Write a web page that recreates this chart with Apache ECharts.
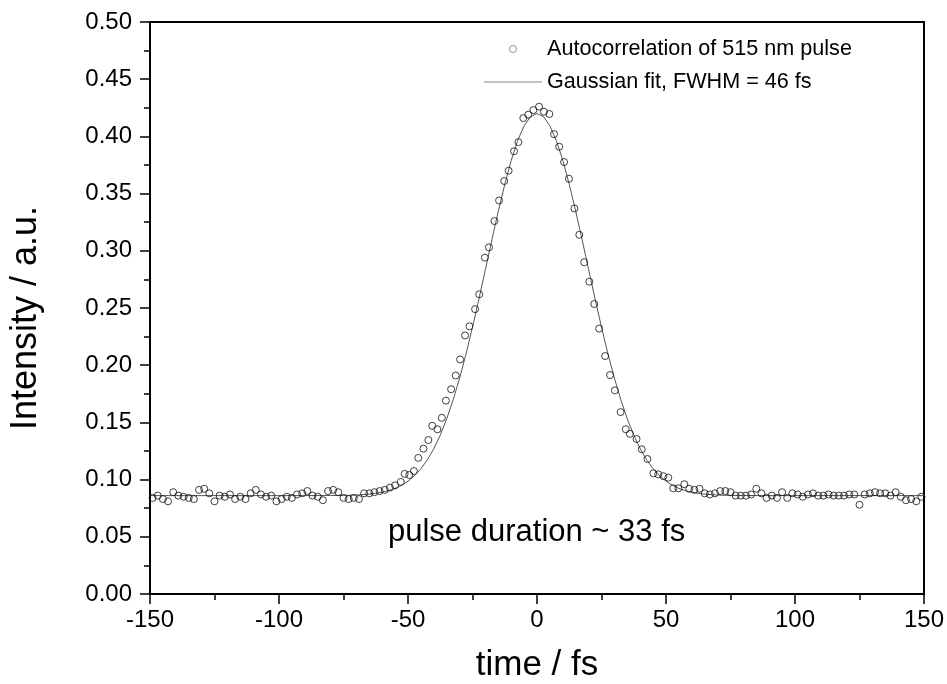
<!DOCTYPE html>
<html>
<head>
<meta charset="utf-8">
<script src="https://cdn.jsdelivr.net/npm/echarts@6/dist/echarts.min.js"></script>
<style>
html,body{margin:0;padding:0;background:#fff;}
#chart{width:947px;height:684px;}
</style>
</head>
<body>
<div id="chart"></div>
<script>
// Measured autocorrelation (time in fs, intensity in a.u.)
var times = [
  -149,-147,-145,-143,-141,-139,-137,-135,-133,-131,-129,-127,-125,-123,-121,-119,
  -117,-115,-113,-111,-109,-107,-105,-103,-101,-99,-97,-95,-93,-91,-89,-87,
  -85,-83,-81,-79,-77,-75,-73,-71,-69,-67,-65,-63,-61,-59,-57,-55,
  -52.8,-51.3,-49.5,-47.7,-46,-44,-42.1,-40.6,-38.6,-36.9,-35.3,-33.3,-31.5,-29.8,
  -27.9,-26.2,-24,-22.4,-20.2,-18.6,-16.5,-14.7,-12.7,-11,-8.9,-7.2,-5.3,-3.4,-1.4,
  0.8,2.7,4.8,6.6,8.6,10.5,12.4,14.5,16.4,18.3,20.3,22.2,24.1,26.4,28.3,30.2,32.4,
  34.4,36,38.6,40.6,42.8,45.1,47,49,50.9,52.8,54.8,57.1,
  59,61,63,65,67,69,71,73,75,77,79,81,83,85,87,89,91,93,95,97,99,101,103,105,107,
  109,111,113,115,117,119,121,123,125,127,129,131,133,135,137,139,141,143,145,147,149
];
var intensity = [
  0.084,0.086,0.083,0.081,0.089,0.086,0.085,0.084,0.083,0.091,0.092,0.088,0.081,0.086,0.085,0.087,
  0.083,0.085,0.083,0.088,0.091,0.087,0.085,0.086,0.081,0.083,0.085,0.084,0.087,0.088,0.090,0.086,
  0.085,0.082,0.090,0.091,0.089,0.084,0.083,0.084,0.083,0.088,0.088,0.089,0.090,0.091,0.093,0.095,
  0.098,0.105,0.104,0.1075,0.119,0.127,0.1346,0.147,0.144,0.154,0.169,0.179,0.191,0.205,
  0.226,0.234,0.249,0.262,0.294,0.303,0.326,0.344,0.361,0.370,0.387,0.395,0.416,0.419,0.423,
  0.426,0.4216,0.4196,0.402,0.391,0.3776,0.363,0.337,0.314,0.290,0.273,0.2535,0.232,0.208,0.1914,0.178,0.159,
  0.144,0.140,0.1355,0.1265,0.118,0.1055,0.1046,0.103,0.1017,0.0924,0.0924,0.096,
  0.092,0.091,0.092,0.088,0.087,0.088,0.090,0.090,0.089,0.086,0.086,0.086,0.087,0.092,0.088,0.084,0.086,0.084,0.089,0.084,0.088,0.087,0.085,0.087,0.088,
  0.086,0.086,0.087,0.086,0.086,0.086,0.087,0.087,0.078,0.087,0.088,0.089,0.088,0.088,0.086,0.089,0.085,0.082,0.083,0.081,0.085
];
// Gaussian fit curve
var fitTimes = [
  -150,-140,-130,-120,-110,-100,-90,-80,-75,-72.5,-70,-67.5,-65,-62.5,-60,-57.5,-55,-52.5,-50,-47.5,-45,-42.5,-40,
  -37.5,-35,-32.5,-30,-27.5,-25,-22.5,-20,-17.5,-15,-12.5,-10,-7.5,-5,-2.5,0,2.5,5,7.5,10,12.5,15,17.5,20,22.5,25,
  27.5,30,32.5,35,37.5,40,42.5,45,47.5,50,52.5,55,57.5,60,62.5,65,67.5,70,72.5,75,80,90,100,110,120,130,140,150
];
var fitValues = [
  0.086,0.086,0.086,0.086,0.086,0.086,0.086,0.0861,0.0862,0.0863,0.0865,0.0869,0.0873,0.0880,0.0890,0.0904,0.0923,0.0950,0.0986,0.1034,0.1095,0.1173,0.1270,
  0.1389,0.1531,0.1697,0.1887,0.2099,0.2332,0.2580,0.2837,0.3096,0.3347,0.3581,0.3790,0.3963,0.4092,0.4173,0.4200,0.4173,0.4092,0.3963,0.3790,0.3581,0.3347,0.3096,0.2837,0.2580,0.2332,
  0.2099,0.1887,0.1697,0.1531,0.1389,0.1270,0.1173,0.1095,0.1034,0.0986,0.0950,0.0923,0.0904,0.0890,0.0880,0.0873,0.0869,0.0865,0.0863,0.0862,0.0861,0.086,0.086,0.086,0.086,0.086,0.086,0.086
];
var seriesNames = ['Autocorrelation of 515 nm pulse', 'Gaussian fit, FWHM = 46 fs'];
var annotation = 'pulse duration ~ 33 fs';

var FONT = '"Liberation Sans", Arial, sans-serif';
var chart = echarts.init(document.getElementById('chart'), null, {renderer: 'canvas'});

var scatterData = times.map(function (t, i) { return [t, intensity[i]]; });
var fitData = fitTimes.map(function (t, i) { return [t, fitValues[i]]; });

chart.setOption({
  animation: false,
  backgroundColor: '#fff',
  grid: {
    left: 150, right: 23, top: 22, bottom: 90,
    containLabel: false, outerBoundsMode: 'none',
    show: true, borderColor: '#000', borderWidth: 2, backgroundColor: 'transparent'
  },
  legend: {
    orient: 'vertical',
    left: 479, top: 33,
    itemWidth: 58, itemHeight: 7, itemGap: 11,
    textStyle: {fontFamily: FONT, fontSize: 21.6, color: '#000'},
    data: [
      {name: seriesNames[0], icon: 'circle', itemStyle: {color: '#fff', borderColor: '#777', borderWidth: 1}},
      {name: seriesNames[1], icon: 'path://M0,0L58,0L58,1L0,1Z', itemStyle: {color: '#888', borderWidth: 0}}
    ]
  },
  xAxis: {
    type: 'value', min: -150, max: 150, interval: 50,
    name: 'time / fs', nameLocation: 'middle', nameGap: 54,
    nameTextStyle: {fontFamily: FONT, fontSize: 35, color: '#000'},
    axisLine: {show: true, onZero: false, lineStyle: {color: '#000', width: 2}},
    axisTick: {show: true, inside: false, length: 10, lineStyle: {color: '#000', width: 1.5}},
    minorTick: {show: true, splitNumber: 2, length: 6, lineStyle: {color: '#000', width: 1.5}},
    axisLabel: {fontFamily: FONT, fontSize: 24, color: '#000', margin: 14},
    splitLine: {show: false}
  },
  yAxis: {
    type: 'value', min: 0, max: 0.5, interval: 0.05,
    name: 'Intensity / a.u.', nameLocation: 'middle', nameGap: 106,
    nameTextStyle: {fontFamily: FONT, fontSize: 36, color: '#000', padding: [0, 20, 0, 0]},
    axisLine: {show: true, onZero: false, lineStyle: {color: '#000', width: 2}},
    axisTick: {show: true, inside: false, length: 10, lineStyle: {color: '#000', width: 1.5}},
    minorTick: {show: true, splitNumber: 2, length: 6, lineStyle: {color: '#000', width: 1.5}},
    axisLabel: {fontFamily: FONT, fontSize: 24, color: '#000', margin: 18,
      formatter: function (v) { return v.toFixed(2); }},
    splitLine: {show: false}
  },
  graphic: [{
    type: 'text',
    left: 388, top: 517,
    style: {text: annotation, fontFamily: FONT, fontSize: 31, fill: '#000'}
  }],
  series: [
    {
      name: seriesNames[1],
      type: 'line',
      data: fitData,
      showSymbol: false, symbol: 'none',
      lineStyle: {color: '#555', width: 1},
      itemStyle: {color: '#888'},
      z: 2
    },
    {
      name: seriesNames[0],
      type: 'scatter',
      data: scatterData,
      symbol: 'circle', symbolSize: 7,
      itemStyle: {color: 'rgba(255,255,255,0)', borderColor: '#111', borderWidth: 1},
      z: 3
    }
  ]
});
</script>
</body>
</html>
